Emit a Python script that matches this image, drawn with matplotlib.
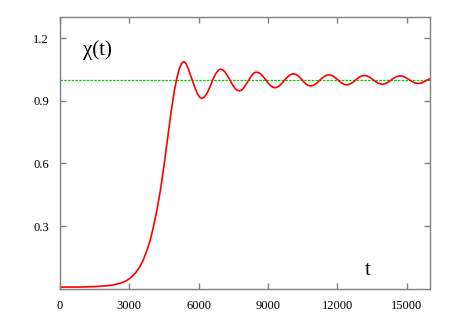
import matplotlib.pyplot as plt

plt.rcParams['font.family'] = ['Liberation Serif', 'DejaVu Serif']

t_values = [0, 400, 800, 1200, 1600, 2000, 2300, 2600, 2850, 3050,
            3250, 3450, 3600, 3750, 3900, 4050, 4200, 4350, 4500, 4650,
            4800, 4950, 5050, 5150, 5250, 5360, 5450, 5550, 5650, 5750,
            5850, 5950, 6050, 6130,
            6233, 6335, 6438, 6540, 6643, 6745, 6848, 6950,
            7050, 7150, 7250, 7350, 7450, 7550, 7650, 7750,
            7844, 7938, 8031, 8125, 8219, 8313, 8406, 8500,
            8600, 8700, 8800, 8900, 9000, 9100, 9200, 9300,
            9399, 9498, 9596, 9695, 9794, 9893, 9991, 10090,
            10184, 10278, 10371, 10465, 10559, 10653, 10746, 10840,
            10939, 11038, 11136, 11235, 11334, 11433, 11531, 11630,
            11726, 11823, 11919, 12015, 12111, 12208, 12304, 12400,
            12495, 12590, 12685, 12780, 12875, 12970, 13065, 13160,
            13258, 13355, 13453, 13550, 13648, 13745, 13843, 13940,
            14035, 14130, 14225, 14320, 14415, 14510, 14605, 14700,
            14799, 14898, 14996, 15095, 15194, 15293, 15391, 15490,
            15590, 15690, 15790, 15890, 16000]
chi_values = [0.008, 0.008, 0.008, 0.009, 0.011, 0.014, 0.018, 0.026, 0.037, 0.052,
              0.073, 0.104, 0.137, 0.180, 0.230, 0.300, 0.380, 0.475, 0.590, 0.715,
              0.840, 0.950, 1.005, 1.050, 1.077, 1.088, 1.078, 1.053, 1.022, 0.990,
              0.958, 0.933, 0.916, 0.911,
              0.916, 0.931, 0.954, 0.981, 1.008, 1.031, 1.046, 1.051,
              1.047, 1.036, 1.019, 0.999, 0.979, 0.962, 0.951, 0.947,
              0.950, 0.960, 0.975, 0.992, 1.009, 1.024, 1.034, 1.037,
              1.034, 1.026, 1.014, 1.000, 0.985, 0.973, 0.965, 0.962,
              0.965, 0.972, 0.983, 0.996, 1.008, 1.019, 1.026, 1.029,
              1.027, 1.021, 1.011, 1.000, 0.989, 0.979, 0.973, 0.971,
              0.973, 0.979, 0.987, 0.998, 1.008, 1.016, 1.022, 1.024,
              1.022, 1.017, 1.009, 1.000, 0.991, 0.983, 0.978, 0.976,
              0.978, 0.983, 0.990, 0.999, 1.007, 1.014, 1.019, 1.021,
              1.019, 1.015, 1.008, 1.000, 0.992, 0.985, 0.981, 0.979,
              0.981, 0.985, 0.991, 0.999, 1.007, 1.013, 1.017, 1.019,
              1.018, 1.014, 1.008, 1.001, 0.994, 0.988, 0.984, 0.983,
              0.984, 0.988, 0.994, 0.999, 1.005]
ref_level = 1.0

x_ticks = [0, 3000, 6000, 9000, 12000, 15000]
y_ticks = [0.3, 0.6, 0.9, 1.2]

fig = plt.figure(figsize=(4.54, 3.18), dpi=100)
ax = fig.add_axes([0.132, 0.092, 0.815, 0.854])

ax.axhline(ref_level, color='#00cc00', linewidth=0.9, linestyle=(0, (2, 1)))
ax.plot(t_values, chi_values, color='red', linewidth=1.2, solid_joinstyle='round')

ax.set_xlim(0, 16000)
ax.set_ylim(0, 1.3)
ax.set_xticks(x_ticks)
ax.set_xticklabels([str(v) for v in x_ticks])
ax.set_yticks(y_ticks)
ax.set_yticklabels([str(v) for v in y_ticks])

for s in ax.spines.values():
    s.set_color('#808080')
    s.set_linewidth(1.0)
ax.tick_params(direction='in', length=4.5, width=1.0, color='#808080',
               top=True, right=True, labelsize=9, pad=8)

ax.text(0.062, 0.86, 'χ(t)', transform=ax.transAxes, fontsize=15, va='baseline')
ax.text(0.832, 0.05, 't', transform=ax.transAxes, fontsize=15, va='baseline', ha='center')

fig.savefig('out.png', dpi=100)
